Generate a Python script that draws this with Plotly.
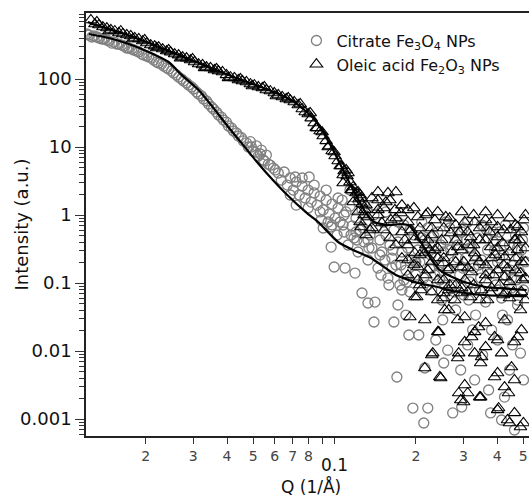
import plotly.graph_objects as go

# ---------------- data ----------------
cit_q = [
    0.01232, 0.01286, 0.01342, 0.0140, 0.01461, 0.01524, 0.0159, 0.01659, 0.01731, 0.01806,
    0.01885, 0.01966, 0.02052, 0.02141, 0.02233, 0.0233, 0.02431, 0.02537, 0.02647, 0.02762,
    0.02882, 0.03007, 0.03138, 0.03274, 0.03416, 0.03564, 0.03719, 0.0388, 0.04049, 0.04224,
    0.04408, 0.04599, 0.04799, 0.05007, 0.05224, 0.05451, 0.05688, 0.05935, 0.06192,
    0.01211, 0.01264, 0.0132, 0.01376, 0.01436, 0.01499, 0.01563, 0.01631, 0.01702, 0.01776,
    0.01853, 0.01933, 0.02017, 0.02105, 0.02195, 0.0229, 0.0239, 0.02494, 0.02602, 0.02715,
    0.02834, 0.02957, 0.03085, 0.03219, 0.03359, 0.03504, 0.03656, 0.03815, 0.0398, 0.04154,
    0.04334, 0.04522, 0.04718, 0.04923, 0.05092, 0.05314, 0.05497, 0.05786, 0.06037,
    0.04882, 0.05137, 0.0536, 0.05592,
    0.0635, 0.06514, 0.06686, 0.06857, 0.07034, 0.07215, 0.07403, 0.07591, 0.07786, 0.07989,
    0.08057, 0.08194, 0.08408, 0.08625, 0.0885, 0.09077, 0.09315, 0.09551, 0.09797, 0.1005,
    0.1031, 0.07152, 0.08924, 0.09716, 0.09716,
    0.1049, 0.1067, 0.1085, 0.1103, 0.1122, 0.1141, 0.1161, 0.1181, 0.1201, 0.1222,
    0.1243, 0.1264, 0.1286, 0.1307, 0.133, 0.1353, 0.1376, 0.14, 0.1424, 0.1448,
    0.1473, 0.1498, 0.1524, 0.155, 0.1577, 0.1604, 0.1631, 0.1659, 0.1688, 0.1717,
    0.1746, 0.1776, 0.1806, 0.1837, 0.1869, 0.1901, 0.1934, 0.1967, 0.2, 0.2034,
    0.0997, 0.1094, 0.1191, 0.1264, 0.133, 0.1412, 0.14, 0.1659, 0.1702, 0.1717,
    0.1837, 0.1885, 0.2051, 0.159, 0.1776,
    0.2069, 0.2104, 0.214, 0.2177, 0.2215, 0.2253, 0.2291, 0.2331, 0.2371, 0.2411,
    0.2453, 0.2494, 0.2537, 0.2581, 0.2625, 0.267, 0.2716, 0.2762, 0.281, 0.2858,
    0.2907, 0.2957, 0.3008, 0.3059, 0.3111, 0.3165, 0.3219, 0.3274, 0.333, 0.3387,
    0.3445, 0.3504, 0.3564, 0.3625, 0.3688, 0.3751, 0.3815, 0.3881, 0.3947, 0.4015,
    0.4084, 0.4153, 0.4224, 0.4297, 0.437, 0.4445, 0.4521, 0.4598, 0.4677, 0.4758,
    0.4839, 0.4922, 0.5006, 0.5092,
    0.195, 0.2215, 0.214, 0.2159, 0.2537, 0.2739, 0.2957, 0.3719, 0.4153, 0.4637,
    0.2625, 0.2932, 0.3302, 0.3783, 0.426, 0.488, 0.2371, 0.3111, 0.3534, 0.4015,
    0.4445, 0.5006, 0.2515, 0.3246, 0.456, 0.4188,
    0.2432, 0.2559, 0.2693, 0.2834, 0.2982, 0.3138, 0.3302, 0.3475, 0.3656, 0.3848,
    0.405, 0.426, 0.4483, 0.4717, 0.4965, 0.2351, 0.2473, 0.2786, 0.3085, 0.3416,
    0.3914, 0.4333, 0.4798, 0.2272, 0.2159, 0.1983, 0.1853, 0.1761, 0.1645, 0.1537,
    0.1486, 0.1341, 0.1275, 0.1211, 0.1151, 0.1076, 0.1022, 0.0947, 0.0908,
    0.06857, 0.07215, 0.07591, 0.07989, 0.08408, 0.0885, 0.09315, 0.09797, 0.1031, 0.1085,
    0.1141, 0.1201, 0.1264, 0.133, 0.14, 0.1473, 0.155, 0.1631, 0.1717, 0.1806,
    0.1901, 0.2, 0.2104, 0.2215, 0.2331, 0.2453, 0.2581, 0.2716, 0.2858, 0.3008,
    0.3165, 0.333, 0.3504, 0.3688, 0.3881, 0.4084, 0.4297, 0.4521, 0.4758, 0.5006,
    0.2858, 0.3688, 0.4758,
]
cit_i = [
    444, 429, 401, 388, 362, 350, 327, 306, 286, 267,
    250, 225, 210, 190, 172, 155, 141, 123, 107, 93.5,
    81.6, 71.3, 60.2, 50.8, 42.9, 36.2, 29.6, 24.9, 20.4, 17.2,
    14.5, 12.3, 10.0, 8.7, 7.4, 6.44, 5.6, 4.9, 4.15,
    459, 415, 415, 388, 375, 338, 327, 316, 286, 276,
    258, 233, 218, 203, 178, 166, 146, 131, 115, 100,
    87.4, 76.4, 64.5, 56.3, 47.5, 38.8, 32.7, 27.5, 23.2, 19.1,
    16.1, 13.7, 11.5, 10.0, 8.4, 7.9, 6.2, 5.4, 4.6,
    12.0, 10.4, 9.0, 7.6,
    3.27, 4.29, 2.76, 3.50, 2.33, 3.06, 1.97, 2.67, 1.78, 2.33,
    3.62, 1.55, 2.11, 1.40, 1.90, 1.19, 1.66, 1.03, 1.45, 0.90,
    1.27, 3.62, 0.844, 0.666, 0.338,
    0.789, 1.66, 0.563, 1.11, 0.362, 1.35, 0.689, 0.459, 0.90, 0.286,
    0.602, 1.19, 0.401, 0.789, 0.218, 0.508, 0.327, 1.0, 0.644, 0.166,
    0.429, 0.286, 0.789, 0.508, 0.118, 0.362, 0.233, 0.602, 0.184, 0.401,
    0.0935, 0.286, 0.713, 0.155, 0.327, 0.0737, 0.218, 0.508, 0.131, 0.306,
    0.172, 0.166, 0.140, 0.0713, 0.0508, 0.0525, 0.0267, 0.0267, 0.00415, 0.0475,
    0.0338, 0.0172, 0.0172, 0.0935, 0.0789,
    0.204, 0.459, 0.118, 0.306, 0.644, 0.166, 0.0789, 0.362, 0.233, 0.563,
    0.111, 0.0562, 0.286, 0.429, 0.155, 0.644, 0.0935, 0.204, 0.0401, 0.362,
    0.131, 0.563, 0.0666, 0.233, 0.789, 0.104, 0.327, 0.166, 0.0338, 0.459,
    0.0789, 0.218, 0.689, 0.0525, 0.306, 0.135, 0.0204, 0.401, 0.0935, 0.204,
    0.563, 0.0602, 0.258, 0.131, 0.0286, 0.362, 0.0845, 0.184, 0.508, 0.0475,
    0.145, 0.306, 0.0789, 0.204,
    0.00145, 0.00145, 0.000874, 0.00562, 0.00666, 0.00123, 0.0015, 0.00267, 0.000967, 0.000689,
    0.0103, 0.00526, 0.00375, 0.00123, 0.0021, 0.0093, 0.0145, 0.0123, 0.00873, 0.0145,
    0.00526, 0.00375, 0.0286, 0.0204, 0.0123, 0.0338,
    0.184, 0.0935, 0.306, 0.429, 0.166, 0.0562, 0.258, 0.118, 0.602, 0.184,
    0.0789, 0.362, 0.155, 0.111, 0.429, 0.131, 0.362, 0.0737, 0.429, 0.184,
    0.306, 0.0737, 0.233, 0.258, 0.429, 0.204, 0.104, 0.184, 0.306, 0.218,
    0.131, 0.327, 0.644, 0.429, 0.508, 0.713, 0.508, 0.789, 0.644,
    1.97, 1.40, 3.50, 1.27, 2.76, 1.11, 2.33, 0.713, 1.78, 1.0,
    2.33, 0.563, 1.66, 0.429, 1.40, 0.258, 1.11, 0.166, 0.789, 0.111,
    0.602, 0.204, 0.789, 0.0935, 0.491, 0.145, 0.789, 0.0602, 0.233, 0.644,
    0.327, 0.0789, 0.713, 0.155, 0.563, 0.233, 0.713, 0.118, 0.327, 0.644,
    0.563, 0.459, 0.0562,
]

ole_q = [
    0.01253, 0.01297, 0.01342, 0.01388, 0.01436, 0.01486, 0.01537, 0.0159, 0.01645, 0.01702,
    0.01761, 0.01821, 0.01885, 0.0195, 0.02017, 0.02087, 0.02159, 0.02233, 0.0231, 0.0239,
    0.02473, 0.02559, 0.02647, 0.02739, 0.02833, 0.02931, 0.03033, 0.03138, 0.03247, 0.03358,
    0.03474, 0.03594, 0.03719, 0.03848, 0.0398, 0.04118, 0.0426, 0.04408, 0.04561, 0.04718,
    0.04881, 0.0505, 0.05224, 0.05405, 0.05592, 0.05785, 0.05985, 0.06192, 0.06406, 0.06628,
    0.06857, 0.07094, 0.0734, 0.07594, 0.07787, 0.07989, 0.08195, 0.08408, 0.08626, 0.08847,
    0.09077, 0.09311, 0.09551, 0.09798, 0.1005, 0.1031, 0.1058, 0.1085, 0.1113, 0.1141,
    0.1171, 0.1201, 0.1232, 0.1264, 0.1297,
    0.01319, 0.01461, 0.01617, 0.01791, 0.01983, 0.02196, 0.02431, 0.02692, 0.02982, 0.03302,
    0.03656, 0.04049, 0.04483, 0.04965, 0.05497, 0.06088, 0.06742, 0.07466, 0.08126, 0.08552,
    0.08999, 0.0947, 0.09966, 0.1049, 0.1104, 0.1161, 0.1222, 0.1286, 0.1076, 0.1254,
    0.1122, 0.1076, 0.1151, 0.1171, 0.1222, 0.133, 0.1448, 0.1577, 0.1688, 0.155,
    0.1498, 0.1353, 0.1254, 0.1617, 0.1761, 0.1869, 0.2034, 0.2215, 0.2351, 0.1918,
    0.2087, 0.1822, 0.1983, 0.2159, 0.1869, 0.2034, 0.2215, 0.2034, 0.2087, 0.1983,
    0.2253, 0.1448, 0.1674, 0.2581, 0.3033, 0.3625, 0.4015, 0.4758, 0.5032, 0.2351,
    0.2537, 0.2858, 0.2932, 0.3302, 0.3783, 0.426, 0.4758, 0.2537, 0.3033, 0.3625,
    0.426, 0.488, 0.2537, 0.3193, 0.3783, 0.2693, 0.3193, 0.4015, 0.4637, 0.2215,
    0.3302,
    0.2291, 0.2411, 0.2494, 0.2625, 0.2716, 0.281, 0.2907, 0.3008, 0.3111, 0.3219,
    0.333, 0.3445, 0.3504, 0.3625, 0.3751, 0.3881, 0.3947, 0.4084, 0.4188, 0.437,
    0.4483, 0.4598, 0.4677, 0.4839, 0.4965, 0.5092, 0.2786, 0.2411, 0.3688, 0.4445,
    0.5092,
    0.2017, 0.1901, 0.2159, 0.2432, 0.2291, 0.2159, 0.2453, 0.2882, 0.2882, 0.3007,
    0.3033, 0.3445, 0.405, 0.4445, 0.4407, 0.4637, 0.5006, 0.3914, 0.3219, 0.3504,
    0.4153, 0.4637, 0.2647, 0.3033, 0.3416, 0.3914, 0.4521, 0.4922, 0.2957, 0.2647,
    0.2411, 0.2311, 0.2473, 0.2858, 0.3302, 0.3625, 0.3475, 0.4015, 0.426, 0.4637,
    0.3111, 0.3475, 0.2932, 0.4015, 0.437, 0.488, 0.4758, 0.4015, 0.3302, 0.3033,
    0.2559, 0.2858, 0.3625, 0.426, 0.488,
    0.1243, 0.1243, 0.1308, 0.1308, 0.1376, 0.1376, 0.1448, 0.1448, 0.1524, 0.1524,
    0.1604, 0.1604, 0.1688, 0.1688, 0.1776, 0.1776, 0.1776, 0.1869, 0.1869, 0.1869,
    0.1967, 0.1967, 0.1967, 0.2069, 0.2069, 0.2069, 0.2177, 0.2177, 0.2177, 0.2291,
    0.2291, 0.2291, 0.2411, 0.2411, 0.2411, 0.2537, 0.2537, 0.2537, 0.267, 0.267,
    0.267, 0.281, 0.281, 0.281, 0.2957, 0.2957, 0.2957, 0.3111, 0.3111, 0.3111,
    0.3274, 0.3274, 0.3274, 0.3445, 0.3445, 0.3445, 0.3625, 0.3625, 0.3625, 0.3815,
    0.3815, 0.3815, 0.4015, 0.4015, 0.4015, 0.4224, 0.4224, 0.4224, 0.4445, 0.4445,
    0.4445, 0.4677, 0.4677, 0.4677, 0.4922, 0.4922, 0.4922, 0.5093, 0.5093, 0.5093,
]
ole_i = [
    738, 643, 622, 581, 562, 526, 508, 475, 459, 444,
    429, 401, 388, 362, 338, 316, 305, 295, 276, 258,
    249, 233, 225, 210, 203, 190, 178, 166, 161, 150,
    146, 136, 131, 127, 115, 107, 104, 96.7, 93.5, 90.4,
    84.4, 81.6, 76.3, 73.8, 68.9, 66.6, 62.3, 58.2, 54.4, 50.8,
    49.1, 45.9, 41.5, 36.2, 32.7, 30.6, 26.6, 22.5, 19.1, 17.2,
    14.5, 12.3, 10.3, 8.74, 7.37, 6.23, 5.25, 4.43, 3.74, 3.06,
    2.58, 2.11, 1.72, 1.45, 1.19,
    690, 508, 508, 388, 375, 286, 267, 203, 197, 146,
    141, 104, 100, 78.9, 76.3, 56.3, 52.6, 42.9, 31.7, 19.1,
    16.6, 10.0, 8.44, 5.25, 4.59, 2.33, 2.18, 1.0, 3.87, 1.78,
    4.15, 2.95, 2.33, 1.55, 1.11, 0.935, 1.19, 2.11, 2.18, 1.55,
    0.763, 0.602, 0.666, 0.844, 1.07, 1.19, 0.935, 1.07, 0.844, 0.602,
    0.475, 0.429, 0.276, 0.276, 0.218, 0.172, 0.155, 0.111, 0.0789, 0.0622,
    0.306, 1.66, 1.19, 0.935, 0.789, 0.844, 0.666, 0.666, 0.844, 0.306,
    0.197, 0.338, 0.172, 0.276, 0.338, 0.241, 0.306, 0.111, 0.111, 0.111,
    0.122, 0.140, 0.0713, 0.0622, 0.0713, 0.544, 0.475, 0.475, 0.429, 0.429,
    0.789,
    0.644, 0.233, 0.429, 0.155, 0.286, 0.0935, 0.563, 0.204, 0.362, 0.145,
    0.233, 0.429, 0.0789, 0.184, 0.563, 0.131, 0.258, 0.0935, 0.388, 0.166,
    0.602, 0.0737, 0.233, 0.429, 0.111, 0.204, 0.0562, 0.0562, 0.0562, 0.0602,
    0.0562,
    0.0622, 0.0316, 0.0286, 0.0191, 0.00873, 0.00562, 0.00415, 0.0093, 0.00241, 0.00178,
    0.00316, 0.0021, 0.00145, 0.000874, 0.00241, 0.00123, 0.000874, 0.00415, 0.0161, 0.00816,
    0.0093, 0.0136, 0.0401, 0.0316, 0.0225, 0.0161, 0.00581, 0.0204, 0.0713, 0.0789,
    0.0191, 0.0093, 0.00401, 0.00789, 0.0093, 0.0115, 0.00666, 0.00475, 0.00295, 0.00375,
    0.00241, 0.0021, 0.0019, 0.00136, 0.000967, 0.000764, 0.0161, 0.0145, 0.0191, 0.0136,
    0.0401, 0.0286, 0.0258, 0.0286, 0.0401,
    1.97, 0.789, 1.40, 0.508, 1.78, 0.644, 1.0, 2.18, 0.602, 1.27,
    1.66, 0.459, 0.90, 0.362, 1.40, 0.563, 0.233, 0.789, 0.362, 0.131,
    1.27, 0.429, 0.184, 0.644, 0.258, 0.0935, 1.0, 0.362, 0.131, 0.508,
    0.204, 0.0737, 1.11, 0.327, 0.111, 0.644, 0.233, 0.0602, 0.90, 0.166,
    0.0935, 0.429, 0.204, 0.713, 1.11, 0.306, 0.0845, 0.563, 0.166, 0.0737,
    1.0, 0.362, 0.0935, 0.644, 0.204, 0.0562, 0.429, 0.131, 1.11, 0.789,
    0.233, 0.0845, 0.327, 0.155, 1.0, 0.602, 0.184, 0.0666, 0.90, 0.286,
    0.104, 0.429, 0.155, 0.713, 0.563, 0.204, 0.0737, 1.0, 0.327, 0.118,
]

cit_fit_q = [0.01232, 0.01461, 0.01731, 0.02052, 0.02431, 0.02715, 0.03138, 0.03564, 0.04015,
             0.04522, 0.05092, 0.05688, 0.06568, 0.07989, 0.08698, 0.1031, 0.1171, 0.1365,
             0.1688, 0.2034, 0.2411, 0.2739, 0.3564, 0.5143]
cit_fit_i = [459, 401, 327, 250, 178, 115, 68.9, 37.5, 20.4,
             11.5, 6.44, 3.87, 2.11, 1.03, 0.789, 0.401, 0.306, 0.233,
             0.131, 0.100, 0.0874, 0.0763, 0.0666, 0.064]

ole_fit_q = [0.01221, 0.01342, 0.0159, 0.01885, 0.02233, 0.02647, 0.03138, 0.03719, 0.04408,
             0.05224, 0.06192, 0.07034, 0.07656, 0.08337, 0.09077, 0.09882, 0.1076, 0.1141,
             0.1222, 0.1308, 0.14, 0.1577, 0.1791, 0.1901, 0.2034, 0.2253, 0.2453, 0.2739,
             0.3111, 0.3625, 0.5143]
ole_fit_i = [690, 601, 492, 388, 295, 225, 172, 131, 100,
             78.9, 60.2, 47.5, 36.2, 26.6, 16.6, 9.03, 4.59, 2.86,
             1.72, 1.07, 0.789, 0.713, 0.737, 0.689, 0.475, 0.241, 0.155, 0.122,
             0.100, 0.0874, 0.0789]

x_tick_vals = [0.02, 0.03, 0.04, 0.05, 0.06, 0.07, 0.08, 0.09, 0.1, 0.2, 0.3, 0.4, 0.5]
x_tick_text = ["2", "3", "4", "5", "6", "7", "8", "", "", "2", "3", "4", "5"]
y_tick_vals = [0.001, 0.01, 0.1, 1, 10, 100]
y_tick_text = ["0.001", "0.01", "0.1", "1", "10", "100"]
y_minor_vals = [m * 10.0 ** e for e in range(-4, 3) for m in range(2, 10)]

FONT = "DejaVu Sans"

fig = go.Figure()
fig.add_trace(go.Scatter(
    x=cit_q, y=cit_i, mode="markers", name="Citrate Fe<sub>3</sub>O<sub>4</sub> NPs",
    marker=dict(symbol="circle-open", size=10, color="#808080", line=dict(width=1.3, color="#808080")),
))
fig.add_trace(go.Scatter(
    x=ole_q, y=ole_i, mode="markers", name="Oleic acid Fe<sub>2</sub>O<sub>3</sub> NPs",
    marker=dict(symbol="triangle-up-open", size=11, color="#000000", line=dict(width=1.1, color="#000000")),
))
fig.add_trace(go.Scatter(x=cit_fit_q, y=cit_fit_i, mode="lines", showlegend=False,
                         line=dict(color="black", width=2.2, shape="spline", smoothing=0.5)))
fig.add_trace(go.Scatter(x=ole_fit_q, y=ole_fit_i, mode="lines", showlegend=False,
                         line=dict(color="black", width=2.2, shape="spline", smoothing=0.5)))

fig.update_layout(
    width=529, height=497,
    margin=dict(l=86, r=0, t=13, b=61),
    paper_bgcolor="white", plot_bgcolor="white",
    font=dict(family=FONT, size=18, color="#111111"),
    showlegend=True,
    legend=dict(x=0.475, y=0.975, xanchor="left", yanchor="top", bgcolor="rgba(0,0,0,0)",
                font=dict(size=16, color="#111111"), tracegroupgap=0, itemwidth=30),
)
fig.update_xaxes(
    type="log", range=[-1.92, -0.28],
    showline=True, linecolor="#222222", linewidth=1.5, mirror=True,
    showgrid=False, zeroline=False,
    tickmode="array", tickvals=x_tick_vals, ticktext=x_tick_text,
    ticks="outside", ticklen=6, tickwidth=1, tickcolor="#333333",
    tickfont=dict(size=14, color="#444444"),
)
fig.update_yaxes(
    type="log", range=[-3.25, 2.971],
    showline=True, linecolor="#222222", linewidth=1.5, mirror=False,
    showgrid=False, zeroline=False,
    tickmode="array", tickvals=y_tick_vals, ticktext=y_tick_text,
    ticks="outside", ticklen=9, tickwidth=1, tickcolor="#333333",
    tickfont=dict(size=18, color="#111111"),
    minor=dict(tickmode="array", tickvals=y_minor_vals, ticks="outside", ticklen=5,
               tickwidth=1, tickcolor="#333333", showgrid=False),
)

fig.add_annotation(x=-1, y=0, xref="x", yref="paper", yanchor="middle", yshift=-29, text="0.1",
                   showarrow=False, font=dict(size=17, color="#111111"))
fig.add_annotation(x=0.508, y=0, xref="paper", yref="paper", yanchor="middle", yshift=-50,
                   text="Q (1/Å)", showarrow=False, font=dict(size=17, color="#111111"))
fig.add_annotation(x=-0.1445, y=0.5, xref="paper", yref="paper", xanchor="center", yanchor="middle",
                   text="Intensity (a.u.)", textangle=-90, showarrow=False,
                   font=dict(size=18, color="#111111"))

fig.write_html("out.html")
